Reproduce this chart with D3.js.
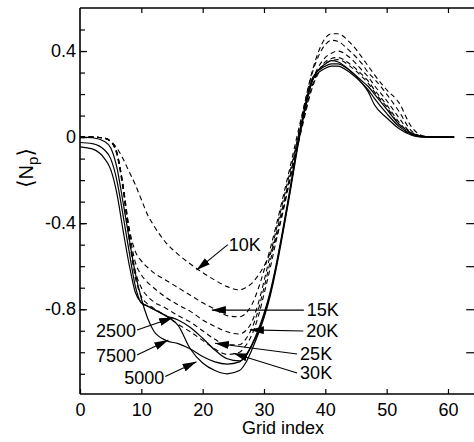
<!DOCTYPE html>
<html><head><meta charset="utf-8">
<script src="https://cdn.jsdelivr.net/npm/d3@7"></script>
<style>
body{margin:0;background:#fff}
svg{display:block}
text{font-family:"Liberation Sans",Arial,sans-serif;font-size:18px;fill:#000}
</style>
</head><body>
<svg id="c" width="474" height="442"></svg>
<script>
// Grid index positions (shared by every series)
const gridIndex = [0, 2, 4, 5, 6, 7, 8, 9, 10, 11, 12, 14, 16, 18, 20, 22, 24, 26, 27, 28, 29, 30, 31, 32, 33, 34, 36, 38, 40, 41, 42, 44, 46, 47, 48, 50, 52, 54, 56, 58, 61];

// Solid series
const s2500 = [-0.045,-0.055,-0.10,-0.15,-0.26,-0.43,-0.59,-0.72,-0.77,-0.785,
  -0.80,-0.83,-0.85,-0.885,-0.935,-0.99,-1.03,-1.04,-1.02,-0.97,
  -0.91,-0.83,-0.73,-0.60,-0.45,-0.29,0.04,0.27,0.34,0.355,
  0.35,0.31,0.25,0.21,0.15,0.09,0.04,0.01,0,0,0];
const s5000 = [-0.025,-0.03,-0.06,-0.10,-0.20,-0.36,-0.53,-0.69,-0.77,-0.785,
  -0.80,-0.83,-0.875,-0.985,-1.05,-1.085,-1.10,-1.085,-1.05,-0.99,
  -0.92,-0.84,-0.74,-0.61,-0.46,-0.30,0.03,0.27,0.32,0.33,
  0.33,0.30,0.25,0.22,0.18,0.11,0.05,0.015,0.002,0,0];
const s7500 = [0,-0.003,-0.02,-0.05,-0.14,-0.30,-0.47,-0.63,-0.75,-0.84,
  -0.90,-0.945,-0.96,-0.985,-1.02,-1.045,-1.055,-1.045,-1.015,-0.965,
  -0.90,-0.82,-0.72,-0.59,-0.44,-0.28,0.05,0.28,0.33,0.34,
  0.34,0.31,0.26,0.235,0.20,0.13,0.06,0.02,0.003,0,0];

// Dashed series
const s10K = [0,0,-0.005,-0.02,-0.05,-0.10,-0.16,-0.22,-0.29,-0.36,
  -0.41,-0.49,-0.545,-0.59,-0.63,-0.665,-0.695,-0.71,-0.70,-0.68,
  -0.645,-0.60,-0.54,-0.47,-0.35,-0.22,0.07,0.32,0.46,0.48,
  0.48,0.44,0.37,0.33,0.29,0.22,0.16,0.05,0.005,0,0];
const s15K = [0,0,-0.005,-0.02,-0.07,-0.22,-0.42,-0.53,-0.575,-0.605,
  -0.63,-0.665,-0.70,-0.735,-0.77,-0.80,-0.83,-0.835,-0.82,-0.78,
  -0.71,-0.62,-0.52,-0.41,-0.29,-0.17,0.08,0.31,0.43,0.45,
  0.445,0.40,0.34,0.30,0.27,0.20,0.12,0.03,0.003,0,0];
const s20K = [0,0,-0.005,-0.02,-0.07,-0.22,-0.43,-0.58,-0.64,-0.675,
  -0.70,-0.745,-0.78,-0.81,-0.85,-0.88,-0.905,-0.915,-0.90,-0.86,
  -0.78,-0.67,-0.55,-0.43,-0.31,-0.19,0.05,0.27,0.37,0.39,
  0.40,0.37,0.31,0.28,0.24,0.17,0.09,0.02,0.002,0,0];
const s25K = [0,0,-0.005,-0.02,-0.075,-0.23,-0.45,-0.62,-0.70,-0.74,
  -0.765,-0.795,-0.83,-0.86,-0.90,-0.94,-0.965,-0.965,-0.94,-0.89,
  -0.81,-0.70,-0.58,-0.45,-0.33,-0.21,0.03,0.25,0.35,0.365,
  0.37,0.34,0.29,0.26,0.22,0.15,0.07,0.015,0.001,0,0];
const s30K = [0,0,-0.005,-0.02,-0.08,-0.24,-0.47,-0.65,-0.74,-0.775,
  -0.795,-0.83,-0.87,-0.905,-0.945,-0.985,-1.01,-1.0,-0.97,-0.92,
  -0.84,-0.73,-0.61,-0.48,-0.36,-0.23,0.02,0.24,0.34,0.355,
  0.36,0.33,0.28,0.25,0.21,0.14,0.06,0.01,0.001,0,0];

const solidSeries = [s2500, s5000, s7500];
const dashedSeries = [s10K, s15K, s20K, s25K, s30K];

// Tick values
const xTicks = [0, 10, 20, 30, 40, 50, 60];
const yTicks = [-0.8, -0.4, 0, 0.4];
const yMinorTicks = [-1.1,-1.0,-0.9,-0.8,-0.7,-0.6,-0.5,-0.4,-0.3,-0.2,-0.1,0,0.1,0.2,0.3,0.4,0.5];
const yRightTicks = [-1.0,-0.8,-0.6,-0.4,-0.2,0,0.2,0.4];

// Annotations (data coords): label, arrow start, arrow tip
const annLabels = ["10K","15K","20K","25K","30K","2500","7500","5000"];
const annFrom = [[24.1,-0.50],[36.5,-0.804],[36.4,-0.901],[35.4,-1.008],[35.4,-1.096],[9.3,-0.897],[9.3,-1.013],[13.9,-1.113]];
const annTip = [[19.0,-0.618],[21.5,-0.804],[27.7,-0.896],[22.0,-0.958],[25.0,-1.005],[15.2,-0.838],[14.4,-0.943],[19.0,-1.044]];

const svg = d3.select("#c");
const xs = d3.scaleLinear().domain([0, 64.6]).range([80, 476.2]);
const ys = d3.scaleLinear().domain([-1.194, 0.6]).range([394, 8]);

const defs = svg.append("defs");
defs.append("marker").attr("id","ah").attr("viewBox","0 0 14 8")
  .attr("refX",14).attr("refY",4).attr("markerWidth",14).attr("markerHeight",8)
  .attr("markerUnits","userSpaceOnUse").attr("orient","auto")
  .append("path").attr("d","M0,0L14,4L0,8Z").attr("fill","#000");

const lineGen = d3.line().x((d,i)=>xs(gridIndex[i])).y(d=>ys(d)).curve(d3.curveMonotoneX);

const gLines = svg.append("g");
dashedSeries.forEach(s=>{
  gLines.append("path").attr("d", lineGen(s)).attr("fill","none")
    .attr("stroke","#000").attr("stroke-width",1.1).attr("stroke-dasharray","5,3.5");
});
solidSeries.forEach(s=>{
  gLines.append("path").attr("d", lineGen(s)).attr("fill","none")
    .attr("stroke","#000").attr("stroke-width",1.2);
});

// Axes
const ax = svg.append("g").attr("class","axes");
ax.append("g").attr("transform","translate(0,394)")
  .call(d3.axisBottom(xs).tickValues(xTicks).tickSizeInner(-5).tickSizeOuter(0).tickPadding(9).tickFormat(d3.format("d")));
ax.append("g").attr("transform","translate(0,8)")
  .call(d3.axisTop(xs).tickValues(xTicks.slice(1)).tickSizeInner(-5).tickSizeOuter(0).tickFormat(""));
ax.append("g").attr("transform","translate(80,0)")
  .call(d3.axisLeft(ys).tickValues(yMinorTicks).tickSizeInner(-5).tickSizeOuter(0).tickFormat(""));
ax.append("g").attr("transform","translate(80,0)")
  .call(d3.axisLeft(ys).tickValues(yTicks).tickSizeInner(-7).tickSizeOuter(0).tickPadding(4)
    .tickFormat(d => d === 0 ? "0" : String(d)));
ax.append("g").attr("transform","translate(476.2,0)")
  .call(d3.axisRight(ys).tickValues(yRightTicks).tickSizeInner(-10).tickSizeOuter(0).tickFormat(""));

ax.selectAll(".domain").remove();
ax.selectAll(".tick line").attr("stroke","#000").attr("stroke-width",1.2);
ax.selectAll(".tick text").attr("font-size",18).attr("font-family","'Liberation Sans',Arial,sans-serif").attr("fill","#000");

// frame lines
const frame = svg.append("g").attr("stroke","#000").attr("stroke-width",1.6).attr("fill","none");
frame.append("line").attr("x1",xs(0)).attr("x2",xs(0)).attr("y1",ys(0.6)).attr("y2",ys(-1.194));
frame.append("line").attr("x1",xs(0)).attr("x2",474).attr("y1",ys(-1.194)).attr("y2",ys(-1.194));
frame.append("line").attr("x1",xs(0)).attr("x2",474).attr("y1",ys(0.6)).attr("y2",ys(0.6));

// Axis titles
svg.append("text").attr("x",283).attr("y",434).attr("text-anchor","middle").text("Grid index");
const yl = svg.append("text").attr("transform","translate(33,168) rotate(-90)").attr("text-anchor","middle");
yl.append("tspan").text("\u27E8").attr("font-family","'DejaVu Sans',sans-serif").attr("font-size",22);
yl.append("tspan").text("N").attr("font-size",20);
yl.append("tspan").text("p").attr("font-size",15).attr("dy",5);
yl.append("tspan").text("\u27E9").attr("dy",-5).attr("font-family","'DejaVu Sans',sans-serif").attr("font-size",22);

// Annotations
const annG = svg.append("g");
annLabels.forEach((lab,i)=>{
  const f = annFrom[i], t = annTip[i];
  annG.append("line").attr("x1",xs(f[0])).attr("y1",ys(f[1])).attr("x2",xs(t[0])).attr("y2",ys(t[1]))
    .attr("stroke","#000").attr("stroke-width",1.1).attr("marker-end","url(#ah)");
  const isLeft = i >= 5;
  let tx, ty;
  if (i === 0) { tx = xs(f[0]) + 1; ty = ys(f[1]) + 6; }
  else if (isLeft) { tx = xs(f[0]) - 1; ty = ys(f[1]) + 7; }
  else { tx = xs(f[0]) + 3; ty = ys(f[1]) + 6; }
  annG.append("text").attr("x",tx).attr("y",ty)
    .attr("text-anchor", isLeft ? "end" : "start").text(lab);
});
</script>
</body></html>
